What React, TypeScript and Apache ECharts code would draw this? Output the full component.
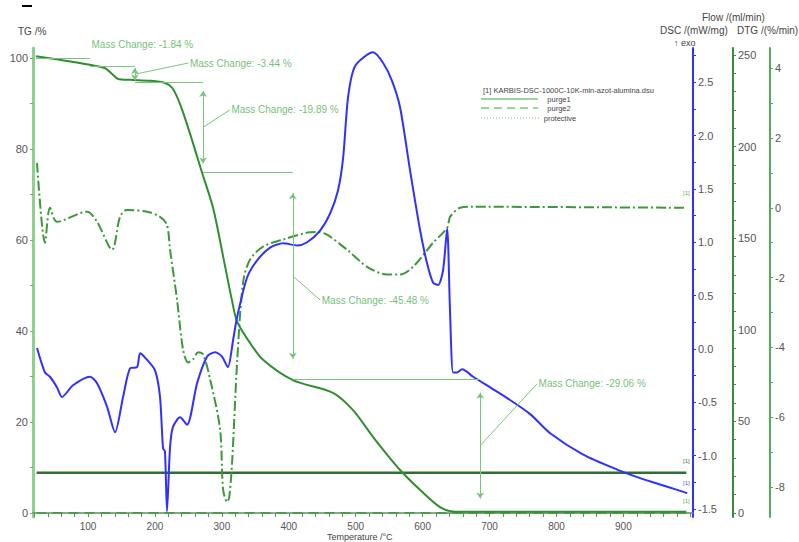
import React, { useEffect, useRef } from "react";
import * as echarts from "echarts";

// ---- data ----
const tgT = [22, 58, 103, 125, 136, 145, 163, 193, 215, 226, 238, 253, 270, 287, 302, 315, 323, 342, 362, 406, 466, 496, 526, 566, 596, 626, 648, 700, 800, 900, 994];
const tgV = [100.4, 99.6, 98.5, 97.8, 96.5, 95.4, 95.2, 95.0, 94.5, 93.4, 89.7, 83.1, 75.0, 67.0, 56.3, 46.8, 42.0, 37.4, 33.6, 29.2, 26.4, 22.6, 16.7, 9.5, 5.1, 1.3, 0.3, 0.3, 0.3, 0.3, 0.3];

const dscT = [23.8, 35.7, 43.2, 53.7, 61.1, 77.6, 103, 113.5, 128.4, 140.4, 152.4, 162.9, 173.3, 177.8, 185.2, 200.1, 207.6, 212.1, 215, 218, 222.6, 227, 237.5, 248, 263, 278, 290, 300, 309, 316.7, 322.8, 337.7, 352.7, 372.1, 391.5, 412.4, 427.4, 446.8, 461.8, 473.7, 481.2, 488.6, 499, 526, 541, 554.4, 566.4, 581.3, 596.3, 606.7, 615.7, 623.2, 630.6, 636.6, 641, 645.6, 651.5, 659, 675.5, 700.9, 726.3, 760.7, 790.6, 840, 890.7, 925, 965.5, 995.4];
const dscV = [0.01, -0.22, -0.26, -0.36, -0.45, -0.34, -0.26, -0.32, -0.54, -0.78, -0.45, -0.18, -0.17, -0.04, -0.08, -0.2, -0.45, -0.93, -0.96, -1.52, -0.92, -0.73, -0.64, -0.71, -0.32, -0.07, -0.03, -0.07, -0.17, 0.08, 0.3, 0.67, 0.83, 0.95, 0.99, 0.97, 1.0, 1.11, 1.27, 1.49, 1.79, 2.36, 2.65, 2.78, 2.68, 2.51, 2.26, 1.67, 1.11, 0.8, 0.62, 0.6, 0.74, 1.13, 0.34, -0.22, -0.22, -0.19, -0.26, -0.36, -0.46, -0.61, -0.79, -0.99, -1.13, -1.21, -1.29, -1.35];

const dtgT = [23.8, 35.7, 43.2, 53.7, 98.5, 113.5, 135.9, 147.8, 158.3, 188.2, 207.6, 218, 222.6, 233, 242, 249.5, 257, 264.5, 272, 282.4, 297.3, 301.8, 307.8, 311, 315.3, 322.8, 331.7, 342, 361.6, 391.5, 427.4, 442.3, 457.2, 487, 517, 546.9, 566.4, 585.8, 615.7, 636.6, 641, 656, 675.5, 994];
const dtgV = [1.29, -1.0, 0, -0.4, -0.11, -0.4, -1.2, -0.26, -0.06, -0.11, -0.26, -0.49, -1.2, -2.63, -4.06, -4.43, -4.34, -4.14, -4.2, -4.91, -6.34, -8.06, -8.43, -8.3, -7.29, -4.43, -2.14, -1.49, -1.11, -0.91, -0.71, -0.69, -0.77, -1.2, -1.69, -1.91, -1.91, -1.69, -1.0, -0.57, -0.26, 0, 0.03, 0];

const flowT = [23, 994];
const purge1 = [22, 22];
const purge2 = [0, 0];

const massChange = [-1.84, -3.44, -19.89, -45.48, -29.06];
const stepT = [103, 170, 272, 406, 686];
const annLabelT = [103, 250, 312, 447, 771];
const annLabelV = [102.9, 98.9, 88.6, 46.8, 28.4];

const xLabels = [100, 200, 300, 400, 500, 600, 700, 800, 900];
const tgLabels = [0, 20, 40, 60, 80, 100];
const dscLabels = [-1.5, -1.0, -0.5, 0.0, 0.5, 1.0, 1.5, 2.0, 2.5];
const flowLabels = [0, 50, 100, 150, 200, 250];
const dtgLabels = [-8, -6, -4, -2, 0, 2, 4];

const range = (a: number, b: number, s: number) => {
  const out: number[] = [];
  for (let v = a; v <= b + 1e-9; v += s) out.push(Math.round(v * 1000) / 1000);
  return out;
};

const FONT = "Liberation Sans, Arial, sans-serif";
const LBL = "#555";

export default function App() {
  const ref = useRef<HTMLDivElement>(null);
  useEffect(() => {
    if (!ref.current) return;
    const chart = echarts.init(ref.current, undefined, { renderer: "svg" });

    const levels = [100];
    massChange.forEach((c) => levels.push(Math.round((levels[levels.length - 1] + c) * 100) / 100));

    const ml: any[] = [];
    stepT.forEach((t, i) => {
      ml.push([{ coord: [i === 0 ? tgT[0] : stepT[i - 1], levels[i]] }, { coord: [t, levels[i]] }]);
    });
    ml.push([{ coord: [stepT[0], levels[1]] }, { coord: [stepT[0], annLabelV[0] + 1] }]);
    for (let i = 1; i < stepT.length; i++) {
      const mid = (levels[i] + levels[i + 1]) / 2;
      ml.push([{ coord: [stepT[i], mid] }, { coord: [annLabelT[i], annLabelV[i]] }]);
      const ins = (levels[i] - levels[i + 1]) * 0.1;
      ml.push([
        { coord: [stepT[i], levels[i] - ins], symbol: "arrow" },
        { coord: [stepT[i], levels[i + 1] + ins], symbol: "arrow" },
      ]);
    }

    const axisLbl = (fmt?: (v: number) => string) => ({
      color: LBL,
      fontSize: 11,
      fontFamily: FONT,
      margin: 5,
      ...(fmt ? { formatter: fmt } : {}),
    });

    const option: any = {
      animation: false,
      backgroundColor: "#ffffff",
      grid: { left: 33, right: 106, top: 48, bottom: 25 },
      xAxis: {
        type: "value",
        min: 17.8,
        max: 1004,
        axisLine: { show: true, lineStyle: { color: "#5f8f5f", width: 1.5 } },
        axisTick: { show: true, length: 4, customValues: range(20, 1000, 20), lineStyle: { color: "#5f8f5f" } },
        axisLabel: { customValues: xLabels, color: LBL, fontSize: 10, fontFamily: FONT, margin: 4 },
        splitLine: { show: false },
      },
      yAxis: [
        {
          type: "value",
          position: "left",
          min: -0.88,
          max: 102.2,
          axisLine: { show: true, lineStyle: { color: "#8fd08f", width: 3 } },
          axisTick: { show: true, length: 3, customValues: range(0, 100, 10), lineStyle: { color: "#6fb06f" } },
          axisLabel: { ...axisLbl(), customValues: tgLabels },
          splitLine: { show: false },
        },
        {
          type: "value",
          position: "right",
          offset: 0,
          min: -1.574,
          max: 2.82,
          axisLine: { show: true, lineStyle: { color: "#3030ff", width: 2 } },
          axisTick: { show: true, length: 3, customValues: range(-1.5, 2.75, 0.25), lineStyle: { color: "#3030ff" } },
          axisLabel: { ...axisLbl((v: number) => v.toFixed(1)), customValues: dscLabels },
          splitLine: { show: false },
        },
        {
          type: "value",
          position: "right",
          offset: 40,
          min: -2.2,
          max: 253.8,
          axisLine: { show: true, lineStyle: { color: "#3c8c3c", width: 2 } },
          axisTick: { show: true, length: 3, customValues: range(0, 250, 10), lineStyle: { color: "#3c8c3c" } },
          axisLabel: { ...axisLbl(), customValues: flowLabels },
          splitLine: { show: false },
        },
        {
          type: "value",
          position: "right",
          offset: 77,
          min: -8.86,
          max: 4.58,
          axisLine: { show: true, lineStyle: { color: "#4caf50", width: 2 } },
          axisTick: { show: true, length: 3, customValues: range(-8, 4, 1), lineStyle: { color: "#4caf50" } },
          axisLabel: { ...axisLbl(), customValues: dtgLabels },
          splitLine: { show: false },
        },
      ],
      series: [
        {
          name: "purge2",
          type: "line",
          yAxisIndex: 2,
          data: flowT.map((t, i) => [t, purge2[i]]),
          showSymbol: false,
          lineStyle: { color: "#4a9e4a", width: 2, type: [10, 6] },
          silent: true,
        },
        {
          name: "purge1",
          type: "line",
          yAxisIndex: 2,
          data: flowT.map((t, i) => [t, purge1[i]]),
          showSymbol: false,
          lineStyle: { color: "#2f6f2f", width: 2.5 },
          silent: true,
        },
        {
          name: "DTG",
          type: "line",
          yAxisIndex: 3,
          data: dtgT.map((t, i) => [t, dtgV[i]]),
          showSymbol: false,
          smooth: 0.3,
          lineStyle: { color: "#3a9a3a", width: 2, type: [10, 3, 2, 3] },
          silent: true,
        },
        {
          name: "TG",
          type: "line",
          yAxisIndex: 0,
          clip: false,
          data: tgT.map((t, i) => [t, tgV[i]]),
          showSymbol: false,
          smooth: 0.3,
          lineStyle: { color: "#2f8f2f", width: 2 },
          silent: true,
          markLine: {
            silent: true,
            animation: false,
            symbol: ["none", "none"],
            symbolSize: 6,
            label: { show: false },
            emphasis: { disabled: true },
            lineStyle: { color: "#7cc47c", width: 1, type: "solid" },
            data: ml,
          },
        },
        {
          name: "DSC",
          type: "line",
          yAxisIndex: 1,
          data: dscT.map((t, i) => [t, dscV[i]]),
          showSymbol: false,
          smooth: 0.25,
          lineStyle: { color: "#3030ff", width: 2 },
          silent: true,
        },
        {
          name: "annotations",
          type: "scatter",
          yAxisIndex: 0,
          clip: false,
          symbolSize: 1,
          silent: true,
          itemStyle: { color: "rgba(0,0,0,0)" },
          data: annLabelT.map((t, i) => ({
            value: [t, annLabelV[i]],
            name: `Mass Change: ${massChange[i].toFixed(2)} %`,
          })),
          label: {
            show: true,
            position: "right",
            distance: 1,
            formatter: "{b}",
            color: "#4caf50",
            fontSize: 10,
            fontFamily: FONT,
          },
        },
      ],
      graphic: [
        { type: "rect", shape: { x: 22, y: 5, width: 10, height: 2 }, style: { fill: "#000" } },
        { type: "text", x: 18, y: 31, style: { text: "TG /%", fill: "#444", font: `10px ${FONT}`, textVerticalAlign: "middle" } },
        { type: "text", x: 702, y: 17, style: { text: "Flow /(ml/min)", fill: "#444", font: `10px ${FONT}`, textVerticalAlign: "middle" } },
        { type: "text", x: 660, y: 30, style: { text: "DSC /(mW/mg)", fill: "#444", font: `10px ${FONT}`, textVerticalAlign: "middle" } },
        { type: "text", x: 737, y: 30, style: { text: "DTG /(%/min)", fill: "#444", font: `10px ${FONT}`, textVerticalAlign: "middle" } },
        { type: "text", x: 674, y: 43, style: { text: "↑ exo", fill: "#444", font: `9px ${FONT}`, textVerticalAlign: "middle" } },
        { type: "text", x: 327, y: 537, style: { text: "Temperature /°C", fill: "#444", font: `9px ${FONT}`, textVerticalAlign: "middle" } },
        { type: "text", x: 483, y: 90, style: { text: "[1] KARBIS-DSC-1000C-10K-min-azot-alumina.dsu", fill: "#444", font: `7.5px ${FONT}`, textVerticalAlign: "middle" } },
        { type: "line", shape: { x1: 481, y1: 99, x2: 538, y2: 99 }, style: { stroke: "#7cc47c", lineWidth: 1.5 } },
        { type: "line", shape: { x1: 481, y1: 108, x2: 538, y2: 108 }, style: { stroke: "#7cc47c", lineWidth: 1.5, lineDash: [8, 5] } },
        { type: "line", shape: { x1: 481, y1: 118, x2: 540, y2: 118 }, style: { stroke: "#7cc47c", lineWidth: 1, lineDash: [1, 2] } },
        { type: "text", x: 559, y: 99, style: { text: "purge1", fill: "#444", font: `7.5px ${FONT}`, textAlign: "center", textVerticalAlign: "middle" } },
        { type: "text", x: 559, y: 108, style: { text: "purge2", fill: "#444", font: `7.5px ${FONT}`, textAlign: "center", textVerticalAlign: "middle" } },
        { type: "text", x: 560, y: 118, style: { text: "protective", fill: "#444", font: `7.5px ${FONT}`, textAlign: "center", textVerticalAlign: "middle" } },
        { type: "text", x: 683, y: 193, style: { text: "[1]", fill: "#4caf50", font: `6px ${FONT}`, textVerticalAlign: "middle" } },
        { type: "text", x: 683, y: 461, style: { text: "[1]", fill: "#2f6f2f", font: `6px ${FONT}`, textVerticalAlign: "middle" } },
        { type: "text", x: 683, y: 483, style: { text: "[1]", fill: "#5050ff", font: `6px ${FONT}`, textVerticalAlign: "middle" } },
        { type: "text", x: 683, y: 501, style: { text: "[1]", fill: "#4caf50", font: `6px ${FONT}`, textVerticalAlign: "middle" } },
      ],
    };

    chart.setOption(option);
    return () => chart.dispose();
  }, []);

  return <div ref={ref} style={{ position: "absolute", left: 0, top: 0, width: 799, height: 542 }} />;
}
